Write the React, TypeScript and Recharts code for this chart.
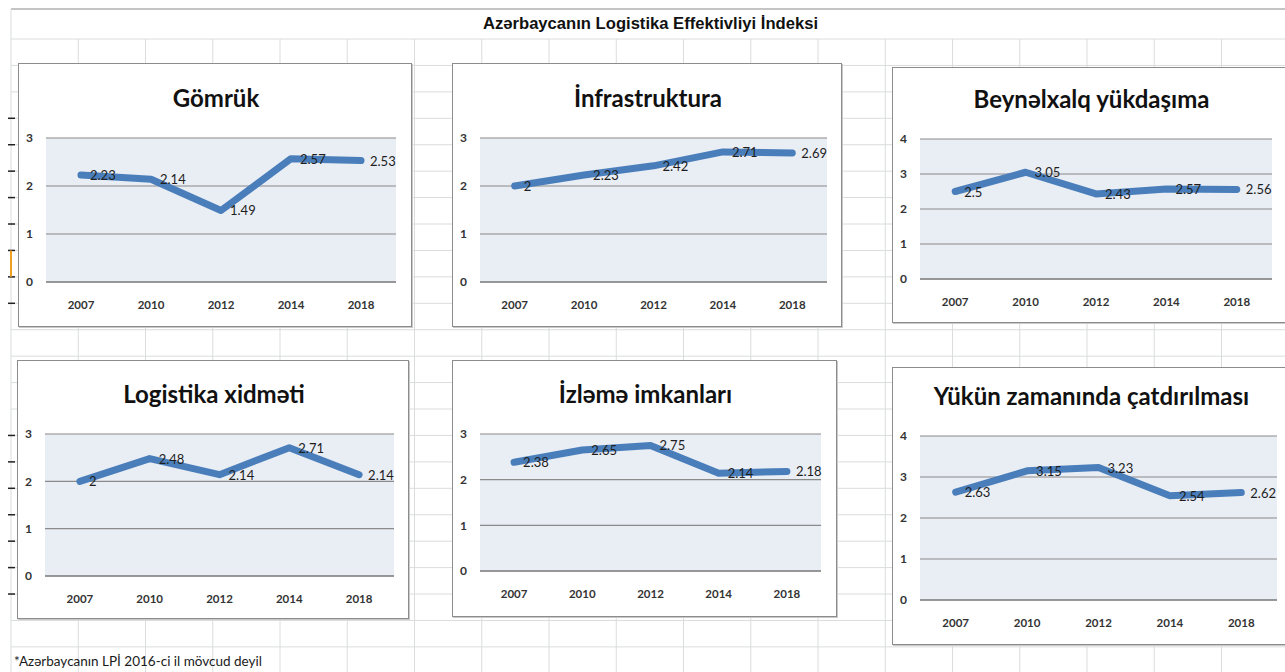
import React from 'react';
import { LineChart, Line, XAxis, YAxis, CartesianGrid, LabelList } from 'recharts';

const YEARS = ['2007', '2010', '2012', '2014', '2018'];

const GOMRUK = [2.23, 2.14, 1.49, 2.57, 2.53];
const INFRASTRUKTURA = [2, 2.23, 2.42, 2.71, 2.69];
const BEYNELXALQ = [2.5, 3.05, 2.43, 2.57, 2.56];
const LOGISTIKA = [2, 2.48, 2.14, 2.71, 2.14];
const IZLEME = [2.38, 2.65, 2.75, 2.14, 2.18];
const ZAMANINDA = [2.63, 3.15, 3.23, 2.54, 2.62];

const TICKS_3 = [0, 1, 2, 3];
const TICKS_4 = [0, 1, 2, 3, 4];

const MAIN_TITLE = 'Azərbaycanın Logistika Effektivliyi İndeksi';
const FOOTNOTE = '*Azərbaycanın LPİ 2016-ci il mövcud deyil';

const LINE_COLOR = '#4A7EBB';
const FONT = 'Lato, "Noto Sans", sans-serif';

// box = chart object on the sheet, plot = inner plot area (page coords)
const panels = [
  { title: 'Gömrük', values: GOMRUK, ticks: TICKS_3, box: { x: 18, y: 63, w: 394, h: 264 }, plot: { l: 46, t: 138, r: 396, b: 282 }, titleBase: 44 },
  { title: 'İnfrastruktura', values: INFRASTRUKTURA, ticks: TICKS_3, box: { x: 452, y: 63, w: 390, h: 264 }, plot: { l: 480, t: 138, r: 827, b: 282 }, titleBase: 44 },
  { title: 'Beynəlxalq yükdaşıma', values: BEYNELXALQ, ticks: TICKS_4, box: { x: 892, y: 67, w: 397, h: 256 }, plot: { l: 920, t: 139, r: 1272, b: 279 }, titleBase: 41 },
  { title: 'Logistika xidməti', values: LOGISTIKA, ticks: TICKS_3, box: { x: 17, y: 360, w: 392, h: 259 }, plot: { l: 45, t: 434, r: 394, b: 576 }, titleBase: 43 },
  { title: 'İzləmə imkanları', values: IZLEME, ticks: TICKS_3, box: { x: 452, y: 360, w: 385, h: 257 }, plot: { l: 480, t: 434, r: 821, b: 571 }, titleBase: 43 },
  { title: 'Yükün zamanında çatdırılması', values: ZAMANINDA, ticks: TICKS_4, box: { x: 892, y: 367, w: 397, h: 278 }, plot: { l: 920, t: 436, r: 1277, b: 600 }, titleBase: 38 },
];

const XAXIS_H = 30;

const ValueLabel = (props: any) => {
  const vb = props.viewBox || {};
  const x = vb.x ?? props.x;
  const y = vb.y ?? props.y;
  return (
    <text x={x + 9} y={y} dy={5} fontSize={13} fill="#1e1e1e" fontFamily={FONT}>
      {props.value}
    </text>
  );
};

function Panel({ p }: { p: (typeof panels)[number] }) {
  const data = YEARS.map((year, i) => ({ year, value: p.values[i] }));
  const { box, plot } = p;
  const pad = (plot.r - plot.l) / 10;
  const fs = 24;
  return (
    <div
      style={{
        position: 'absolute',
        left: box.x,
        top: box.y,
        width: box.w,
        height: box.h,
        boxSizing: 'border-box',
        border: '1px solid #8c8c8c',
        boxShadow: '1px 1px 0 #c9c9c9',
        background: '#fff',
      }}
    >
      <div
        style={{
          position: 'absolute',
          left: 0,
          width: box.w,
          top: p.titleBase - 0.887 * fs - 1,
          textAlign: 'center',
          fontFamily: FONT,
          fontWeight: 700,
          fontSize: fs,
          lineHeight: `${fs}px`,
          color: '#111',
          whiteSpace: 'nowrap',
        }}
      >
        {p.title}
      </div>
      <div style={{ position: 'absolute', left: -1, top: -1 }}>
        <LineChart
          width={box.w}
          height={box.h}
          data={data}
          margin={{
            top: plot.t - box.y,
            right: box.x + box.w - plot.r,
            bottom: box.y + box.h - plot.b - XAXIS_H,
            left: 0,
          }}
          style={{ fontFamily: FONT }}
        >
          <CartesianGrid vertical={false} stroke="#8a8a8a" strokeWidth={1.2} fill="#E9EDF4" fillOpacity={1} />
          <XAxis
            dataKey="year"
            height={XAXIS_H}
            interval={0}
            padding={{ left: pad, right: pad }}
            tickLine={false}
            tickSize={0}
            tickMargin={19}
            axisLine={{ stroke: '#8a8a8a', strokeWidth: 1.5 }}
            tick={{ fontSize: 11.5, fontWeight: 700, fill: '#333' }}
          />
          <YAxis
            width={plot.l - box.x}
            domain={[0, p.ticks[p.ticks.length - 1]]}
            ticks={p.ticks}
            axisLine={false}
            tickLine={false}
            tickSize={0}
            tickMargin={13}
            tick={{ fontSize: 12, fontWeight: 700, fill: '#333' }}
          />
          <Line
            type="linear"
            dataKey="value"
            stroke={LINE_COLOR}
            strokeWidth={7}
            strokeLinecap="round"
            strokeLinejoin="round"
            dot={false}
            activeDot={false}
            isAnimationActive={false}
          >
            <LabelList dataKey="value" content={ValueLabel} />
          </Line>
        </LineChart>
      </div>
    </div>
  );
}

function SheetGrid() {
  const cols: number[] = [];
  for (let x = 11; x < 1285; x += 67.25) cols.push(x);
  const rows: number[] = [];
  for (let y = 39; y < 672; y += 26.43) rows.push(y);
  return (
    <svg width={1285} height={672} style={{ position: 'absolute', left: 0, top: 0 }}>
      <line x1={11} x2={1285} y1={9} y2={9} stroke="#c4c4c4" strokeWidth={2} />
      {cols.map((x, i) => (
        <line key={'c' + i} x1={x} x2={x} y1={i === 0 ? 9 : 39} y2={672} stroke="#dadcdd" strokeWidth={1} />
      ))}
      {rows.map((y, i) => (
        <line key={'r' + i} x1={11} x2={1285} y1={y} y2={y} stroke="#dadcdd" strokeWidth={1} />
      ))}
      {rows.map((y, i) =>
        (i >= 3 && i <= 10) || (i >= 15 && i <= 21) ? (
          <line key={'m' + i} x1={8} x2={15} y1={y} y2={y} stroke="#222" strokeWidth={1.5} />
        ) : null
      )}
      <line x1={11} x2={11} y1={rows[8]} y2={rows[9]} stroke="#f0a020" strokeWidth={2} />
      <text
        x={650.5}
        y={29}
        textAnchor="middle"
        fontFamily='"Liberation Sans", Arial, sans-serif'
        fontWeight={700}
        fontSize={17}
        textLength={335}
        lengthAdjust="spacingAndGlyphs"
        fill="#111"
      >
        {MAIN_TITLE}
      </text>
      <text x={14} y={666} fontFamily={FONT} fontSize={13.5} fill="#1a1a1a">
        {FOOTNOTE}
      </text>
    </svg>
  );
}

export default function App() {
  return (
    <div
      style={{
        position: 'absolute',
        left: 0,
        top: 0,
        width: 1285,
        height: 672,
        overflow: 'hidden',
        background: '#fff',
      }}
    >
      <SheetGrid />
      {panels.map((p) => (
        <Panel key={p.title} p={p} />
      ))}
    </div>
  );
}
